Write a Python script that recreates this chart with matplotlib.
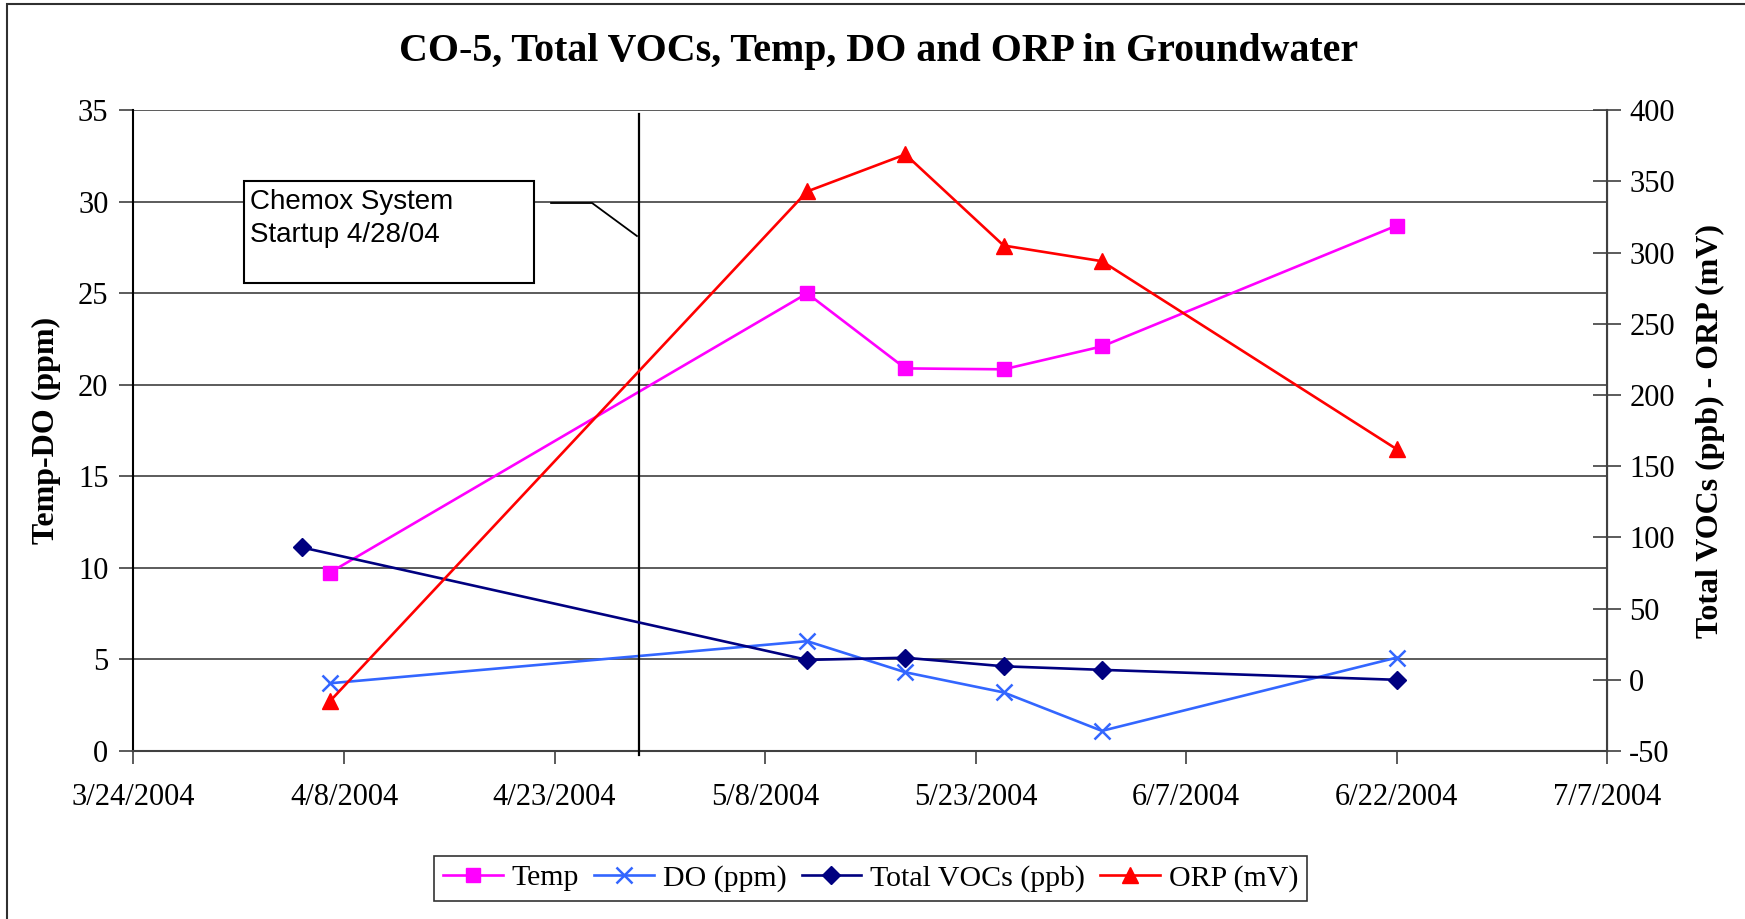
import matplotlib
matplotlib.use('Agg')
import matplotlib.pyplot as plt
from matplotlib.patches import Rectangle
from matplotlib.lines import Line2D
import pandas as pd

plt.rcParams['axes.unicode_minus'] = False

# sample dates
dates = pd.to_datetime(['2004-04-07', '2004-05-11', '2004-05-18', '2004-05-25', '2004-06-01', '2004-06-22'])
voc_dates = pd.to_datetime(['2004-04-05', '2004-05-11', '2004-05-18', '2004-05-25', '2004-06-01', '2004-06-22'])

# left axis series
temp = [9.75, 25.0, 20.9, 20.85, 22.1, 28.7]
do_ppm = [3.7, 6.0, 4.3, 3.2, 1.1, 5.1]

# right axis series
voc = [93, 14, 15.5, 9.5, 7, 0]
orp = [-15, 343, 369, 305, 294, 162]

startup = pd.Timestamp('2004-04-29')
x_ticks = pd.date_range('2004-03-24', '2004-07-07', freq='15D')
x_labels = [f"{d.month}/{d.day}/{d.year}" for d in x_ticks]

serif = 'Liberation Serif'
sans = 'Liberation Sans'

fig = plt.figure(figsize=(17.45, 9.19), dpi=100)
ax = fig.add_axes([0.0765, 0.1828, 0.9210 - 0.0765, 0.8800 - 0.1828])
ax2 = ax.twinx()

# grid + spines
ax.set_ylim(0, 35)
ax.set_yticks(range(0, 36, 5))
ax.yaxis.grid(True, color='#404040', linewidth=1.2)
ax.set_axisbelow(True)
ax.spines['top'].set_visible(False)
ax2.spines['top'].set_visible(False)
ax.spines['left'].set_color('black')
ax.spines['left'].set_linewidth(1.5)
ax.spines['bottom'].set_color('#404040')
ax.spines['bottom'].set_linewidth(1.5)
ax2.spines['right'].set_color('#404040')
ax2.spines['right'].set_linewidth(1.5)
ax2.spines['left'].set_visible(False)
ax2.spines['bottom'].set_visible(False)

ax.set_xlim(x_ticks[0], x_ticks[-1])
ax.set_xticks(x_ticks)
ax.set_xticklabels(x_labels, fontfamily=serif, fontsize=22)
ax.tick_params(axis='x', direction='out', length=9, width=1.2, color='#404040', pad=14)
ax.tick_params(axis='y', direction='out', length=10, width=1.2, color='#404040', pad=8, labelsize=22)
for t in ax.get_yticklabels():
    t.set_fontfamily(serif)

ax2.set_ylim(-50, 400)
ax2.set_yticks(range(-50, 401, 50))
ax2.tick_params(axis='y', direction='inout', length=20, width=1.2, color='#404040', pad=6, labelsize=22)
for t in ax2.get_yticklabels():
    t.set_fontfamily(serif)

# series
lw = 1.9
l_temp, = ax.plot(dates, temp, color='#ff00ff', marker='s', markersize=10.5, linewidth=lw, label='Temp', zorder=3)
l_do, = ax.plot(dates, do_ppm, color='#3366ff', marker='x', markersize=11, markeredgewidth=1.8, linewidth=lw, label='DO (ppm)', zorder=3)
l_voc, = ax2.plot(voc_dates, voc, color='#000080', marker='D', markersize=9.5, linewidth=lw, label='Total VOCs (ppb)', zorder=3)
l_orp, = ax2.plot(dates, orp, color='#ff0000', marker='^', markersize=11, linewidth=lw, label='ORP (mV)', zorder=3)

# startup line
ax.plot([startup, startup], [34.8, -0.2], color='black', linewidth=1.6, clip_on=False, zorder=4)

# labels
fig.text(0.5036, 0.944, 'CO-5, Total VOCs, Temp, DO and ORP in Groundwater', fontfamily=serif,
         fontweight='bold', fontsize=28.7, ha='center', va='center')
ax.set_ylabel('Temp-DO (ppm)', fontfamily=serif, fontweight='bold', fontsize=23, labelpad=12)
ax2.set_ylabel('Total VOCs (ppb) - ORP (mV)', fontfamily=serif, fontweight='bold', fontsize=23, labelpad=15)

# annotation box
fig.add_artist(Rectangle((0.1398, 0.6921), 0.1662, 0.111, transform=fig.transFigure,
                         facecolor='white', edgecolor='black', linewidth=1.5, zorder=5))
fig.text(0.1433, 0.7945, 'Chemox System\nStartup 4/28/04', fontfamily=sans, fontsize=20,
         va='top', ha='left', linespacing=1.38, zorder=6)
fig.add_artist(Line2D([0.3158, 0.3393, 0.3650], [0.7791, 0.7791, 0.7432], transform=fig.transFigure,
                      color='black', linewidth=1.3))

# legend
leg = fig.legend(handles=[l_temp, l_do, l_voc, l_orp], loc='center', bbox_to_anchor=(0.499, 0.0445),
                 ncol=4, frameon=True, fancybox=False, edgecolor='black', handlelength=2.0,
                 handletextpad=0.3, columnspacing=0.5, borderpad=0.3,
                 prop={'family': serif, 'size': 21.5})
leg.get_frame().set_linewidth(1.2)

# outer frame
fig.add_artist(Rectangle((0.004, -0.1), 1.2, 0.9956 + 0.1, transform=fig.transFigure,
                         facecolor='none', edgecolor='#303030', linewidth=1.5))

fig.savefig('out.png', dpi=100)
